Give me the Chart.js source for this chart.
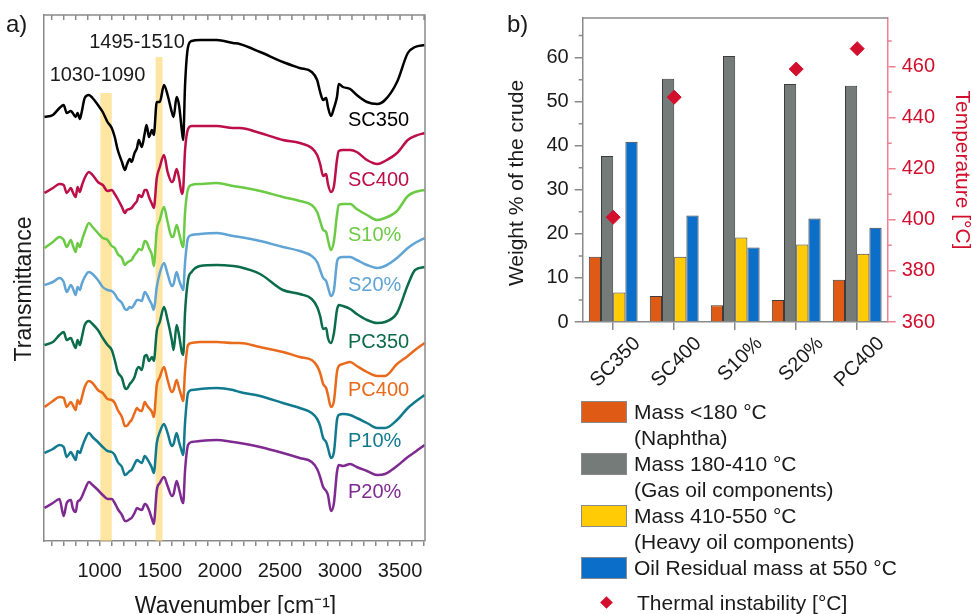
<!DOCTYPE html>
<html>
<head>
<meta charset="utf-8">
<script src="https://cdn.jsdelivr.net/npm/chart.js@4.4.1/dist/chart.umd.min.js"></script>
<style>
  html, body { margin: 0; padding: 0; background: #fff; }
  body { position: relative; width: 972px; height: 614px; overflow: hidden; font-family: 'Liberation Sans', Arial, sans-serif; color: #1a1a1a; }
  #wrapA { position: absolute; left: 0; top: 0; }
  #wrapB { position: absolute; left: 500px; top: 0; }
  #legend { position: absolute; left: 581px; top: 399px; font-size: 21px; line-height: 26px; }
  .item { position: relative; padding-left: 53px; white-space: nowrap; }
  .sw { position: absolute; left: 0; top: 2px; width: 46px; height: 22px; border: 1px solid #8a8a8a; box-sizing: border-box; }
  .marker-row { position: relative; padding-left: 56px; margin-top: 9px; white-space: nowrap; }
  .diamond { position: absolute; left: 21px; top: 8px; width: 9px; height: 9px; transform: rotate(45deg); }
</style>
</head>
<body>
<div id="wrapA"><canvas id="spectra" width="440" height="625"></canvas></div>
<div id="wrapB"><canvas id="fractions" width="478" height="400"></canvas></div>
<div id="legend"></div>
<script>
// ---------- panel a) FTIR spectra ----------
const wavenumbers = [540, 610, 665, 700, 725, 760, 775, 800, 815, 835, 850, 875, 910, 940, 985,
  1025, 1065, 1100, 1125, 1150, 1185, 1210, 1225, 1250, 1265, 1290, 1310, 1325, 1350, 1375,
  1390, 1410, 1435, 1450, 1475, 1500, 1535, 1565, 1600, 1615, 1640, 1660, 1685, 1695, 1710,
  1735, 1765, 1835, 1975, 2110, 2165, 2335, 2525, 2665, 2765, 2810, 2835, 2860, 2885, 2900,
  2925, 2950, 2975, 2990, 3025, 3085, 3140, 3225, 3310, 3375, 3475, 3565, 3625, 3705];

const sc350 = [424, 426, 433, 436, 428, 430, 428, 424, 428, 422, 429, 443, 446, 443, 436,
  429, 419, 413, 404, 391, 379, 371, 376, 382, 379, 388, 393, 401, 394, 408,
  416, 404, 411, 406, 439, 439, 456, 446, 429, 424, 444, 436, 409, 401, 455,
  494, 500, 501, 501, 498, 497, 489, 479, 473, 469, 461, 449, 441, 443, 434,
  425, 433, 444, 457, 454, 452, 446, 439, 437, 441, 459, 488, 494, 496];
const sc400 = [348, 353, 357, 356, 348, 353, 349, 344, 354, 349, 355, 363, 369, 366, 359,
  356, 350, 351, 347, 342, 334, 328, 331, 332, 333, 337, 340, 346, 344, 351,
  351, 344, 337, 333, 363, 374, 386, 369, 359, 361, 372, 363, 347, 352, 390,
  412, 415, 415, 415, 413, 413, 408, 401, 398, 393, 386, 377, 365, 367, 357,
  349, 355, 381, 390, 391, 391, 389, 381, 377, 380, 388, 401, 405, 408];
const s10 = [293, 299, 304, 301, 294, 301, 296, 289, 298, 294, 300, 309, 318, 314, 308,
  303, 301, 295, 293, 287, 283, 276, 278, 280, 281, 286, 289, 292, 291, 300,
  299, 293, 286, 275, 311, 321, 334, 319, 304, 305, 316, 308, 296, 294, 328,
  352, 356, 357, 358, 355, 354, 350, 344, 340, 336, 329, 320, 311, 309, 301,
  291, 300, 326, 336, 337, 337, 332, 326, 321, 323, 330, 345, 349, 351];
const s20 = [256, 259, 263, 259, 249, 256, 253, 246, 254, 251, 257, 264, 269, 267, 261,
  254, 251, 250, 247, 242, 238, 232, 231, 234, 233, 237, 241, 241, 240, 249,
  247, 242, 236, 231, 254, 268, 278, 267, 255, 257, 269, 261, 253, 251, 278,
  303, 306, 307, 308, 305, 304, 300, 294, 290, 285, 279, 271, 263, 260, 254,
  245, 251, 279, 283, 284, 284, 281, 276, 273, 275, 283, 293, 298, 303];
const pc350 = [196, 199, 206, 209, 201, 203, 199, 193, 201, 196, 203, 216, 220, 217, 211,
  203, 196, 191, 181, 169, 163, 153, 152, 157, 159, 164, 172, 174, 171, 185,
  186, 180, 184, 180, 210, 219, 234, 221, 201, 191, 216, 206, 188, 186, 228,
  261, 269, 275, 276, 275, 274, 267, 251, 247, 242, 234, 225, 212, 213, 203,
  198, 208, 231, 236, 235, 232, 227, 221, 218, 219, 228, 256, 271, 274];
const pc400 = [134, 140, 144, 143, 134, 139, 136, 131, 141, 137, 143, 154, 160, 158, 151,
  148, 142, 141, 138, 131, 124, 115, 115, 119, 121, 128, 133, 131, 130, 139,
  136, 133, 129, 124, 156, 164, 174, 161, 149, 151, 161, 153, 143, 140, 170,
  196, 198, 199, 199, 198, 198, 194, 189, 184, 181, 175, 168, 157, 153, 146,
  134, 140, 169, 175, 177, 179, 175, 169, 165, 165, 177, 185, 191, 198];
const p10 = [88, 92, 96, 94, 84, 89, 86, 81, 90, 88, 93, 101, 108, 104, 99,
  94, 90, 89, 86, 79, 74, 66, 67, 70, 71, 77, 81, 80, 78, 85,
  83, 79, 73, 68, 98, 109, 117, 108, 95, 97, 108, 99, 89, 86, 118,
  148, 151, 152, 153, 151, 149, 145, 138, 133, 128, 122, 115, 103, 99, 93,
  83, 89, 121, 126, 127, 126, 123, 118, 113, 113, 121, 133, 139, 146];
const p20 = [33, 38, 42, 25, 38, 41, 33, 29, 39, 41, 44, 51, 59, 56, 51,
  46, 42, 42, 38, 32, 26, 20, 20, 22, 23, 28, 33, 32, 31, 37,
  36, 31, 22, 17, 51, 58, 64, 55, 45, 47, 60, 52, 40, 38, 70,
  96, 99, 100, 101, 99, 98, 94, 88, 83, 79, 72, 64, 54, 50, 46,
  30, 38, 69, 76, 75, 77, 74, 70, 66, 67, 75, 84, 89, 96];

const spectra = [sc350, sc400, s10, s20, pc350, pc400, p10, p20];
const sampleNames = ['SC350', 'SC400', 'S10%', 'S20%', 'PC350', 'PC400', 'P10%', 'P20%'];
const lineColors = ['#000000', '#BC0F47', '#6CCB45', '#5FA4D4', '#0B6C4C', '#EA6A1C', '#117A8E', '#7E2A90'];

// highlighted bands (cm-1) and their labels
const bands = [[1005, 1100], [1465, 1523]];
const bandLabels = ['1030-1090', '1495-1510'];

// ---------- panel b) distillation fractions ----------
const products = ['SC350', 'SC400', 'S10%', 'S20%', 'PC400'];
const naphtha = [14.8, 5.9, 3.8, 5.0, 9.6];
const gasOil = [37.7, 55.2, 60.4, 54.0, 53.6];
const heavyOil = [6.7, 14.8, 19.2, 17.6, 15.5];
const residue = [40.9, 24.2, 16.9, 23.5, 21.4];
const instability = [401, 448, null, 459, 467];

const fractionLegend = [
  ['Mass <180 °C', '(Naphtha)'],
  ['Mass 180-410 °C', '(Gas oil components)'],
  ['Mass 410-550 °C', '(Heavy oil components)'],
  ['Oil Residual mass at 550 °C']
];
const fractionColors = ['#DF5A14', '#747B79', '#FFCB05', '#0B6FC9'];
const instabilityColor = '#D20F2D';

const fontFamily = "'Liberation Sans', Arial, sans-serif";
const textColor = '#1a1a1a';
const axisGray = '#8a8a8a';
const tempAxisColor = '#EE8092';
Chart.defaults.font.family = fontFamily;

// annotation placement (data units)
const labelWavenumber = 3067;
const labelLevels = [421, 361, 306, 256, 199, 151, 100, 49];
const bandTops = [448, 484];
const bandLabelAnchors = [[981, 466], [1310, 499]];

function drawRotated(ctx, text, x, y, font, color) {
  ctx.save();
  ctx.translate(x, y);
  ctx.rotate(-Math.PI / 2);
  ctx.font = font;
  ctx.fillStyle = color;
  ctx.textAlign = 'center';
  ctx.textBaseline = 'middle';
  ctx.fillText(text, 0, 0);
  ctx.restore();
}

const bandPlugin = {
  id: 'bands',
  beforeDatasetsDraw(chart) {
    const {ctx, scales: {x, y}} = chart;
    ctx.save();
    ctx.fillStyle = 'rgba(255, 212, 100, 0.6)';
    bands.forEach((b, i) => {
      const x0 = x.getPixelForValue(b[0]);
      const x1 = x.getPixelForValue(b[1]);
      const top = y.getPixelForValue(bandTops[i]);
      ctx.fillRect(x0, top, x1 - x0, y.bottom - top);
    });
    ctx.restore();
  }
};

const spectraDecor = {
  id: 'spectraDecor',
  afterDraw(chart) {
    const {ctx, chartArea: a, scales: {x, y}} = chart;
    ctx.save();
    ctx.strokeStyle = axisGray;
    ctx.lineWidth = 1.5;
    ctx.beginPath();
    ctx.moveTo(a.left, a.top);
    ctx.lineTo(a.right, a.top);
    ctx.lineTo(a.right, a.bottom);
    x.ticks.forEach(t => {
      const px = x.getPixelForValue(t.value);
      ctx.moveTo(px, a.top);
      ctx.lineTo(px, a.top + 5);
    });
    ctx.stroke();

    ctx.textBaseline = 'middle';
    ctx.font = '20px ' + fontFamily;
    ctx.textAlign = 'left';
    sampleNames.forEach((n, i) => {
      ctx.fillStyle = lineColors[i];
      ctx.fillText(n, x.getPixelForValue(labelWavenumber), y.getPixelForValue(labelLevels[i]));
    });
    ctx.fillStyle = textColor;
    ctx.textAlign = 'center';
    bandLabels.forEach((t, i) => {
      ctx.fillText(t, x.getPixelForValue(bandLabelAnchors[i][0]), y.getPixelForValue(bandLabelAnchors[i][1]));
    });
    ctx.font = '23px ' + fontFamily;
    ctx.fillText('Wavenumber [cm⁻¹]', (a.left + a.right) / 2 + 1, 607);
    ctx.textAlign = 'left';
    ctx.font = '24px ' + fontFamily;
    ctx.fillText('a)', 6, 25);
    ctx.restore();
    drawRotated(ctx, 'Transmittance', 25, 289, '23px ' + fontFamily, textColor);
  }
};

new Chart(document.getElementById('spectra'), {
  type: 'line',
  data: {
    datasets: spectra.map((s, i) => ({
      label: sampleNames[i],
      data: wavenumbers.map((w, k) => ({x: w, y: s[k]})),
      borderColor: lineColors[i],
      borderWidth: 2.5,
      pointRadius: 0,
      cubicInterpolationMode: 'monotone',
      fill: false
    }))
  },
  options: {
    responsive: false,
    animation: false,
    layout: {padding: {left: 11, right: 15, top: 15, bottom: 0}},
    plugins: {legend: {display: false}, tooltip: {enabled: false}},
    scales: {
      x: {
        type: 'linear', min: 536, max: 3708,
        ticks: {
          stepSize: 100, includeBounds: false, autoSkip: false, maxRotation: 0,
          callback: v => (v % 500 === 0 ? String(v) : ''),
          font: {size: 20}, color: textColor, padding: 13
        },
        grid: {drawOnChartArea: false, tickLength: 5, color: axisGray, lineWidth: 1.5},
        border: {color: axisGray, width: 1.5},
        afterFit: s => { s.height = 84; }
      },
      y: {
        min: 0, max: 526,
        ticks: {display: false},
        grid: {display: false},
        border: {display: true, color: axisGray, width: 1.5},
        afterFit: s => { s.width = 33; }
      }
    }
  },
  plugins: [bandPlugin, spectraDecor]
});

// ---------- panel b) chart ----------
const fractionDecor = {
  id: 'fractionDecor',
  afterDraw(chart) {
    const {ctx, chartArea: a, scales: {y, yR}} = chart;
    ctx.save();
    ctx.lineWidth = 1.5;
    ctx.strokeStyle = axisGray;
    ctx.beginPath();
    ctx.moveTo(a.left, a.top);
    ctx.lineTo(a.right, a.top);
    for (let v = 5; v < y.max; v += 10) {
      const py = y.getPixelForValue(v);
      ctx.moveTo(a.left, py);
      ctx.lineTo(a.left - 4, py);
    }
    ctx.stroke();
    ctx.strokeStyle = tempAxisColor;
    ctx.beginPath();
    for (let v = yR.min + 10; v < yR.max; v += 20) {
      const py = yR.getPixelForValue(v);
      ctx.moveTo(a.right, py);
      ctx.lineTo(a.right + 4, py);
    }
    ctx.stroke();
    ctx.fillStyle = textColor;
    ctx.font = '24px ' + fontFamily;
    ctx.textBaseline = 'middle';
    ctx.fillText('b)', 7, 25);
    ctx.restore();
    drawRotated(ctx, 'Weight % of the crude', 17, 183, '21px ' + fontFamily, textColor);
  }
};

const fractionValues = [naphtha, gasOil, heavyOil, residue];

new Chart(document.getElementById('fractions'), {
  type: 'bar',
  data: {
    labels: products,
    datasets: [
      {
        type: 'line',
        label: 'Thermal instability [°C]',
        data: instability,
        yAxisID: 'yR',
        showLine: false,
        pointStyle: 'rectRot',
        pointRadius: 7,
        backgroundColor: instabilityColor,
        borderColor: instabilityColor,
        borderWidth: 1,
        order: 0
      },
      ...fractionValues.map((vals, i) => ({
        label: fractionLegend[i].join(' '),
        data: vals,
        yAxisID: 'y',
        backgroundColor: fractionColors[i],
        borderColor: '#3d3d3d',
        borderWidth: 1,
        barPercentage: 1,
        categoryPercentage: 0.8,
        order: 1
      }))
    ]
  },
  options: {
    responsive: false,
    animation: false,
    layout: {padding: {left: 0, right: 0, top: 16, bottom: 0}},
    plugins: {legend: {display: false}, tooltip: {enabled: false}},
    scales: {
      x: {
        offset: true,
        grid: {offset: false, drawOnChartArea: false, tickLength: 8, color: axisGray, lineWidth: 1.5},
        border: {color: axisGray, width: 1.5},
        ticks: {minRotation: 45, maxRotation: 45, autoSkip: false, font: {size: 20}, color: textColor, labelOffset: 24, padding: 2},
        afterFit: s => { s.height = 78; }
      },
      y: {
        position: 'left', min: 0, max: 69,
        ticks: {stepSize: 10, includeBounds: false, font: {size: 20}, color: textColor, padding: 6},
        grid: {drawOnChartArea: false, tickLength: 8, color: axisGray, lineWidth: 1.5},
        border: {color: axisGray, width: 1.5},
        afterFit: s => { s.width = 82.7; }
      },
      yR: {
        position: 'right', min: 360, max: 479,
        ticks: {stepSize: 20, includeBounds: false, font: {size: 20}, color: instabilityColor, padding: 6},
        grid: {drawOnChartArea: false, tickLength: 8, color: tempAxisColor, lineWidth: 1.5},
        border: {color: tempAxisColor, width: 1.5},
        title: {display: true, text: 'Temperature [°C]', font: {size: 21}, color: instabilityColor},
        afterFit: s => { s.width = 90.3; }
      }
    }
  },
  plugins: [fractionDecor]
});

// ---------- legend below panel b ----------
const legendEl = document.getElementById('legend');
fractionLegend.forEach((lines, i) => {
  const item = document.createElement('div');
  item.className = 'item';
  const sw = document.createElement('span');
  sw.className = 'sw';
  sw.style.background = fractionColors[i];
  item.appendChild(sw);
  lines.forEach(l => {
    const d = document.createElement('div');
    d.textContent = l;
    item.appendChild(d);
  });
  legendEl.appendChild(item);
});
const markerRow = document.createElement('div');
markerRow.className = 'marker-row';
const dia = document.createElement('span');
dia.className = 'diamond';
dia.style.background = instabilityColor;
markerRow.appendChild(dia);
markerRow.appendChild(document.createTextNode('Thermal instability [°C]'));
legendEl.appendChild(markerRow);
</script>
</body>
</html>
